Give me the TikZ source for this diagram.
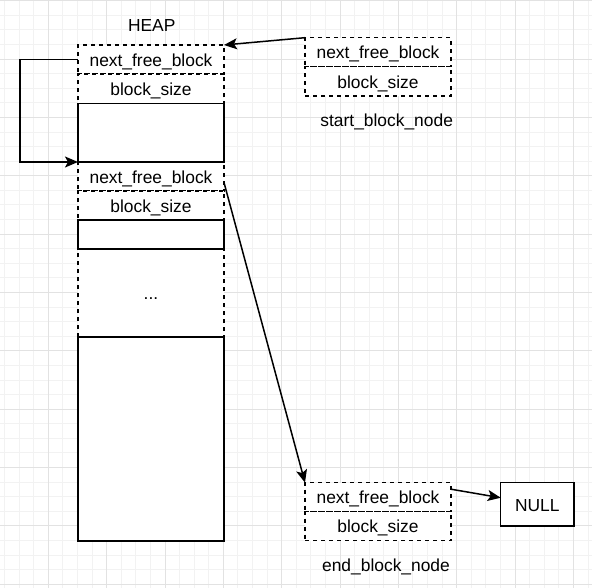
\documentclass[tikz,border=0pt]{standalone}
\usepackage{fontspec}
\setmainfont{Liberation Sans}
\usetikzlibrary{arrows.meta}
\definecolor{gridminor}{HTML}{F2F2F2}
\definecolor{gridmajor}{HTML}{E2E2E2}
\begin{document}
\begin{tikzpicture}[x=1pt,y=-1pt,
  txt/.style={font=\fontsize{17.4}{20}\selectfont, text height=13.5pt, text depth=0pt},
  cell/.style={draw, line width=1.3pt, fill=white, minimum width=146pt, inner sep=0pt, outer sep=0pt, txt},
  dcell/.style={cell, dash pattern=on 4pt off 4pt},
  lbl/.style={txt, inner sep=0pt},
  arr/.style={line width=1.5pt, -{Stealth[length=13pt,width=11pt,inset=3pt]}}]
\useasboundingbox (0,0) rectangle (592,588);
\fill[white] (0,0) rectangle (592,588);
% grid
\foreach \i in {0,...,40}{
  \pgfmathsetmacro\gx{4.5+14.585*\i}
  \draw[gridminor, line width=0.8pt] (\gx,0) -- (\gx,588);
  \pgfmathsetmacro\gy{0.7+14.585*\i}
  \draw[gridminor, line width=0.8pt] (0,\gy) -- (592,\gy);
}
\foreach \i in {0,...,10}{
  \pgfmathsetmacro\gx{48.3+58.34*\i}
  \draw[gridmajor, line width=0.8pt] (\gx,0) -- (\gx,588);
  \pgfmathsetmacro\gy{0.7+58.34*\i}
  \draw[gridmajor, line width=0.8pt] (0,\gy) -- (592,\gy);
}
% heap
\node[lbl] (heap) at (151.7,25) {HEAP};
\node[dcell, minimum height=29pt] (h1) at (151,59.5) {next\_free\_block};
\node[dcell, minimum height=29.5pt] (h2) at (151,88.75) {block\_size};
\node[dcell, minimum height=29pt] (h4) at (151,176.5) {next\_free\_block};
\node[dcell, minimum height=29pt] (h5) at (151,205.5) {block\_size};
\node[dcell, minimum height=88pt] (h7) at (151,293) {...};
\node[cell, minimum height=58.5pt] (h3) at (151,132.75) {};
\node[cell, minimum height=29pt] (h6) at (151,234.5) {};
\node[cell, minimum height=204pt] (h8) at (151,439) {};
% start node
\node[dcell, minimum height=29pt] (s1) at (378,52.2) {next\_free\_block};
\node[dcell, minimum height=29.3pt] (s2) at (378,81.35) {block\_size};
\node[lbl] (slbl) at (386.7,119.3) {start\_block\_node};
% end node
\node[dcell, minimum height=29pt] (e1) at (378,497.2) {next\_free\_block};
\node[dcell, minimum height=29pt] (e2) at (378,526.2) {block\_size};
\node[lbl] (elbl) at (386,564.3) {end\_block\_node};
% NULL
\node[cell, minimum width=73.3pt, minimum height=43.3pt] (null) at (537.35,504.35) {NULL};
% arrows
\draw[arr] (s1.north west) -- (h1.north east);
\draw[arr] (h1.west) -- ++(-58,0) |- (h4.north west);
\draw[arr] ([yshift=-6pt]h4.east) -- (e1.north west);
\draw[arr] ([yshift=8pt]e1.east) -- ([yshift=6.6pt]null.west);
\end{tikzpicture}
\end{document}
